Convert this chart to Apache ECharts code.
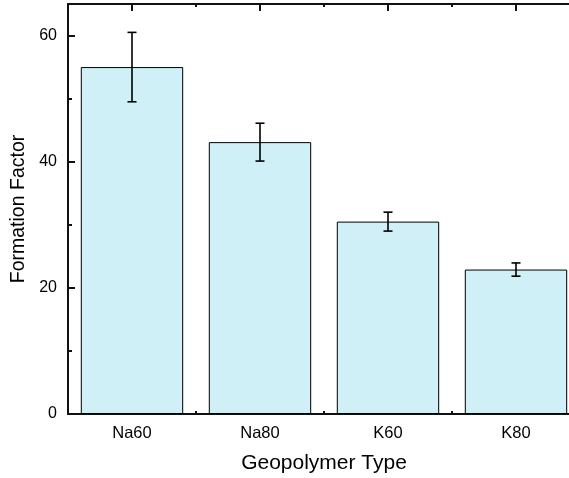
<!DOCTYPE html>
<html>
<head>
<meta charset="utf-8">
<script src="https://cdn.jsdelivr.net/npm/echarts@6/dist/echarts.min.js"></script>
<style>
  html, body { margin: 0; padding: 0; background: #fff; }
  #chart { width: 569px; height: 478px; }
</style>
</head>
<body>
<div id="chart"></div>
<script>
// Geopolymer types and their mean formation factor with standard deviation
const categories = ['Na60', 'Na80', 'K60', 'K80'];
const formationFactor = [55.0, 43.1, 30.5, 22.9];
const stdDev = [5.5, 3.0, 1.5, 1.05];
const yTicks = [0, 20, 40, 60];

const FONT = 'Liberation Sans, Arial, sans-serif';
const AXIS_COLOR = '#111';

const errorData = categories.map((c, i) => [i, formationFactor[i] - stdDev[i], formationFactor[i] + stdDev[i]]);

const chart = echarts.init(document.getElementById('chart'));

const baseX = {
  type: 'category',
  data: categories,
  boundaryGap: true,
  splitLine: { show: false }
};

chart.setOption({
  animation: false,
  grid: { left: 68, top: 4, bottom: 64, right: -11, containLabel: false, outerBoundsMode: 'none' },
  xAxis: [
    Object.assign({}, baseX, {
      position: 'bottom',
      name: 'Geopolymer Type',
      nameLocation: 'middle',
      nameGap: 39,
      nameTextStyle: { fontFamily: FONT, fontSize: 21, color: '#000' },
      axisLine: { show: true, lineStyle: { color: AXIS_COLOR, width: 2 } },
      axisTick: { show: true, alignWithLabel: true, inside: true, length: 7, lineStyle: { color: AXIS_COLOR, width: 2 } },
      axisLabel: { fontFamily: FONT, fontSize: 16.5, color: '#000', margin: 11 }
    }),
    // minor ticks on band boundaries (bottom)
    Object.assign({}, baseX, {
      position: 'bottom',
      axisLine: { show: false },
      axisTick: { show: true, alignWithLabel: false, inside: true, length: 3, lineStyle: { color: AXIS_COLOR, width: 2 } },
      axisLabel: { show: false }
    }),
    // top frame with major ticks
    Object.assign({}, baseX, {
      position: 'top',
      axisLine: { show: true, lineStyle: { color: AXIS_COLOR, width: 2 } },
      axisTick: { show: true, alignWithLabel: true, inside: true, length: 7, lineStyle: { color: AXIS_COLOR, width: 2 } },
      axisLabel: { show: false }
    }),
    // minor ticks on band boundaries (top)
    Object.assign({}, baseX, {
      position: 'top',
      axisLine: { show: false },
      axisTick: { show: true, alignWithLabel: false, inside: true, length: 3, lineStyle: { color: AXIS_COLOR, width: 2 } },
      axisLabel: { show: false }
    })
  ],
  yAxis: {
    type: 'value',
    min: 0,
    max: 65,
    interval: 20,
    name: 'Formation Factor',
    nameLocation: 'middle',
    nameGap: 38,
    nameTextStyle: { fontFamily: FONT, fontSize: 19.5, color: '#000' },
    axisLine: { show: true, lineStyle: { color: AXIS_COLOR, width: 2 } },
    axisTick: { show: true, inside: true, length: 7, lineStyle: { color: AXIS_COLOR, width: 2 } },
    minorTick: { show: true, splitNumber: 2, length: 4, lineStyle: { color: AXIS_COLOR, width: 2 } },
    splitLine: { show: false },
    minorSplitLine: { show: false },
    axisLabel: {
      fontFamily: FONT, fontSize: 16, color: '#000', margin: 11,
      showMaxLabel: false,
      formatter: v => (yTicks.includes(v) ? String(v) : '')
    }
  },
  series: [
    {
      type: 'bar',
      data: formationFactor,
      barWidth: '80%',
      itemStyle: { color: '#CFF0F7', borderColor: '#000', borderWidth: 1 }
    },
    {
      type: 'custom',
      data: errorData,
      z: 10,
      renderItem: function (params, api) {
        const i = api.value(0);
        const lo = api.coord([i, api.value(1)]);
        const hi = api.coord([i, api.value(2)]);
        const half = 4.5;
        const style = { stroke: '#000', lineWidth: 1.6 };
        return {
          type: 'group',
          children: [
            { type: 'line', shape: { x1: hi[0], y1: hi[1], x2: lo[0], y2: lo[1] }, style },
            { type: 'line', shape: { x1: hi[0] - half, y1: hi[1], x2: hi[0] + half, y2: hi[1] }, style },
            { type: 'line', shape: { x1: lo[0] - half, y1: lo[1], x2: lo[0] + half, y2: lo[1] }, style }
          ]
        };
      }
    }
  ]
});
</script>
</body>
</html>
